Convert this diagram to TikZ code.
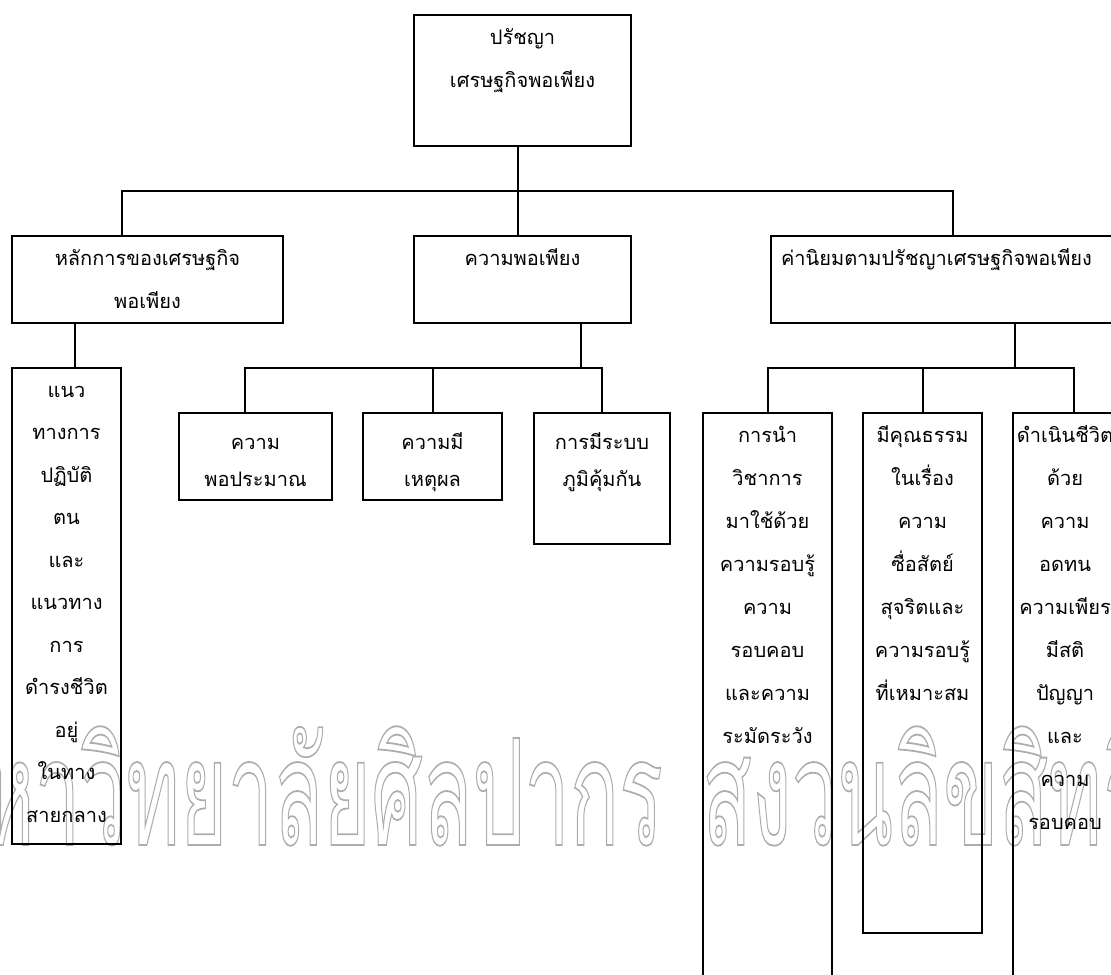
\documentclass[tikz,border=0pt]{standalone}
\usepackage{fontspec}
\usepackage{tikz}
\usetikzlibrary{positioning}
\newfontfamily\thaifont[Script=Thai]{Loma}
\newcommand{\hollow}[1]{\special{pdf:literal direct 1 Tr 0.9 w}#1\special{pdf:literal direct 0 Tr}}
\newcommand{\firstrow}{\rule{0pt}{15pt}}

\begin{document}
\begin{tikzpicture}[
        x=0.5pt, y=-0.5pt,
        box/.style={rectangle, draw, line width=1pt, inner sep=0pt},
        txt/.style={anchor=north, align=center, inner sep=0pt, font=\thaifont\fontsize{10}{21.5}\selectfont},
        ptxt/.style={txt, font=\thaifont\fontsize{10}{21.25}\selectfont},
        stxt/.style={txt, yshift=-3.5pt, font=\thaifont\fontsize{10}{18.5}\selectfont},
        link/.style={line width=1pt},
        wmark/.style={inner sep=0pt, transform shape, text=black!32, font=\thaifont\fontsize{74}{74}\selectfont}
    ]
        \useasboundingbox (0,0) rectangle (1111,974);

        \begin{scope}[shift={(663,845)}, xscale=0.55]
            \node[wmark, anchor=base east] (wm1) at (0,0) {\hollow{มหาวิทยาลัยศิลปากร}};
        \end{scope}
        \begin{scope}[shift={(702,845)}, xscale=0.55]
            \node[wmark, anchor=base west] (wm2) at (0,0) {\hollow{สงวนลิขสิทธิ์}};
        \end{scope}

        \node[box, minimum width=108.5pt, minimum height=65.5pt, label={[txt]north:{\firstrow ปรัชญา\\เศรษฐกิจพอเพียง}}] (phil) at (522.5,80.5) {};

        \node[box, minimum width=135.5pt, minimum height=43.5pt, label={[txt]north:{\firstrow หลักการของเศรษฐกิจ\\พอเพียง}}] (rule) at (147.5,279.5) {};
        \node[box, minimum width=108.5pt, minimum height=43.5pt, label={[txt]north:{\firstrow ความพอเพียง}}] (suff) at (522.5,279.5) {};
        \node[box, minimum width=179.5pt, minimum height=43.5pt, label={[txt, xshift=-7pt]north:{\firstrow ค่านิยมตามปรัชญาเศรษฐกิจพอเพียง}}] (value) at (950.5,279.5) {};

        \node[box, minimum width=54.5pt, minimum height=238pt, label={[ptxt]north:{\firstrow แนว\\ทางการ\\ปฏิบัติ\\ตน\\และ\\แนวทาง\\การ\\ดำรงชีวิต\\อยู่\\ในทาง\\สายกลาง}}] (path) at (66.5,606) {};

        \node[box, minimum width=76.5pt, minimum height=43.5pt, label={[stxt]north:{\firstrow ความ\\พอประมาณ}}] (modest) at (255.5,456.5) {};
        \node[box, minimum width=69.5pt, minimum height=43.5pt, label={[stxt]north:{\firstrow ความมี\\เหตุผล}}] (reason) at (432.5,456.5) {};
        \node[box, minimum width=68pt, minimum height=65.5pt, label={[stxt]north:{\firstrow การมีระบบ\\ภูมิคุ้มกัน}}] (immune) at (602,478.5) {};

        \node[box, minimum width=64.5pt, minimum height=293.5pt, label={[txt]north:{\firstrow การนำ\\วิชาการ\\มาใช้ด้วย\\ความรอบรู้\\ความ\\รอบคอบ\\และความ\\ระมัดระวัง}}] (know) at (767.5,706.5) {};
        \node[box, minimum width=59.5pt, minimum height=260pt, label={[txt]north:{\firstrow มีคุณธรรม\\ในเรื่อง\\ความ\\ซื่อสัตย์\\สุจริตและ\\ความรอบรู้\\ที่เหมาะสม}}] (moral) at (922.5,673) {};
        \node[box, minimum width=52pt, minimum height=293.5pt, label={[txt]north:{\firstrow ดำเนินชีวิต\\ด้วย\\ความ\\อดทน\\ความเพียร\\มีสติ\\ปัญญา\\และ\\ความ\\รอบคอบ}}] (life) at (1065,706.5) {};

        \coordinate (bus1) at (518,191);
        \coordinate (bus2) at (581,368);
        \coordinate (bus3) at (1015,368);

        \draw[link] (phil.south -| bus1) -- (bus1);
        \draw[link] (rule.north -| 122,0) |- (bus1) -| (value.north -| 953,0);
        \draw[link] (bus1) -- (bus1 |- suff.north);

        \draw[link] (rule.south -| 75,0) -- (path.north -| 75,0);

        \draw[link] (suff.south -| bus2) -- (bus2);
        \draw[link] (modest.north -| 245,0) |- (bus2) -| (immune.north);
        \draw[link] (reason.north) -- (reason.north |- bus2);

        \draw[link] (value.south -| bus3) -- (bus3);
        \draw[link] (know.north) |- (bus3) -| (life.north -| 1074,0);
        \draw[link] (moral.north) -- (moral.north |- bus3);
    \end{tikzpicture}
\end{document}
